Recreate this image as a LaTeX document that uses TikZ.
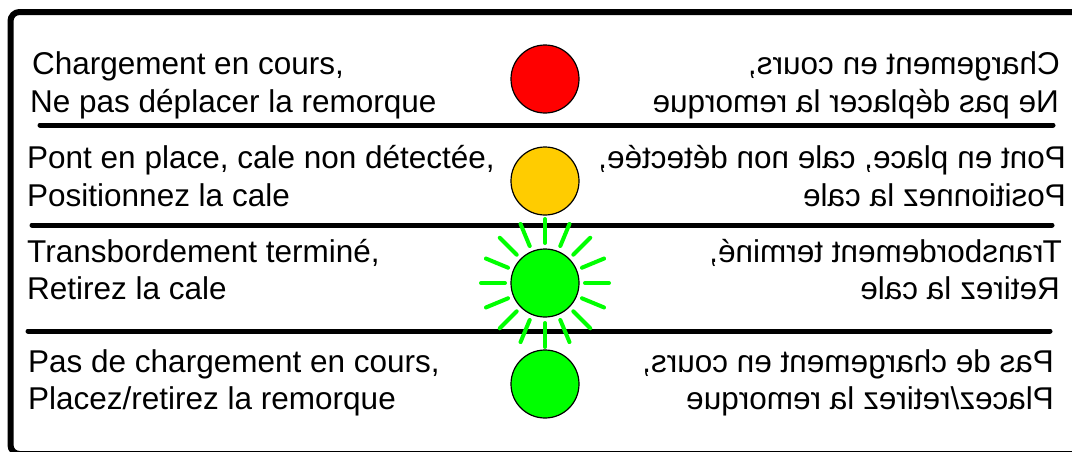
\documentclass[tikz,border=0pt]{standalone}
\usepackage{fontspec}
\setmainfont{Liberation Sans}
\usepackage{graphicx}
\begin{document}
\begin{tikzpicture}[x=1pt,y=-1pt,
  lbl/.style={inner sep=0pt,anchor=base west,font=\fontsize{31.5}{38}\selectfont},
  rlbl/.style={inner sep=0pt,anchor=base east,font=\fontsize{31.5}{38}\selectfont},
  sep/.style={line width=5pt,line cap=round},
  lamp/.style={circle,draw=black,line width=1.2pt,minimum size=68pt,inner sep=0pt},
  ray/.style={draw={rgb,255:red,0;green,255;blue,0},line width=4pt,line cap=round}]
\definecolor{lampred}{RGB}{255,0,0}
\definecolor{lampyellow}{RGB}{255,204,0}
\definecolor{lampgreen}{RGB}{0,255,0}
\useasboundingbox (0,0) rectangle (1072,451);
\clip (0,0) rectangle (1072,451);
\fill[white] (0,0) rectangle (1072,451);
% outer frame
\draw[line width=6pt,rounded corners=9pt] (10.5,12) rectangle (1095,454);
% separators
\coordinate (s1a) at (40,125);  \coordinate (s1b) at (1053,125);
\coordinate (s2a) at (32,225);  \coordinate (s2b) at (1052,225);
\coordinate (s3a) at (28,331);  \coordinate (s3b) at (1050,331);
\draw[sep] (s1a) -- (s1b);
\draw[sep] (s2a) -- (s2b);
\draw[sep] (s3a) -- (s3b);
% lamps
\node[lamp,fill=lampred] (red) at (545,79) {};
\node[lamp,fill=lampyellow] (yellow) at (545,181) {};
\node[lamp,fill=lampgreen] (blink) at (545,283) {};
\node[lamp,fill=lampgreen] (green) at (545,384) {};
% rays around the blinking lamp
\foreach \a in {0,22.5,...,337.5}
  \draw[ray] ([shift={(\a:40)}]blink.center) -- ([shift={(\a:64)}]blink.center);
% left texts
\node[lbl] (l1a) at (32,74) {Chargement en cours,};
\node[lbl] (l1b) at (30,112) {Ne pas déplacer la remorque};
\node[lbl] (l2a) at (27,168) {Pont en place, cale non détectée,};
\node[lbl] (l2b) at (27,206) {Positionnez la cale};
\node[lbl] (l3a) at (27,262) {Transbordement terminé,};
\node[lbl] (l3b) at (27,299) {Retirez la cale};
\node[lbl] (l4a) at (28,372) {Pas de chargement en cours,};
\node[lbl] (l4b) at (28,409) {Placez/retirez la remorque};
% mirrored texts
\node[rlbl] (r1a) at (1060,74) {\reflectbox{Chargement en cours,}};
\node[rlbl] (r1b) at (1059,112) {\reflectbox{Ne pas déplacer la remorque}};
\node[rlbl] (r2a) at (1066,168) {\reflectbox{Pont en place, cale non détectée,}};
\node[rlbl] (r2b) at (1066,206) {\reflectbox{Positionnez la cale}};
\node[rlbl] (r3a) at (1062,262) {\reflectbox{Transbordement terminé,}};
\node[rlbl] (r3b) at (1060,299) {\reflectbox{Retirez la cale}};
\node[rlbl] (r4a) at (1054,372) {\reflectbox{Pas de chargement en cours,}};
\node[rlbl] (r4b) at (1054,409) {\reflectbox{Placez/retirez la remorque}};
\end{tikzpicture}
\end{document}
